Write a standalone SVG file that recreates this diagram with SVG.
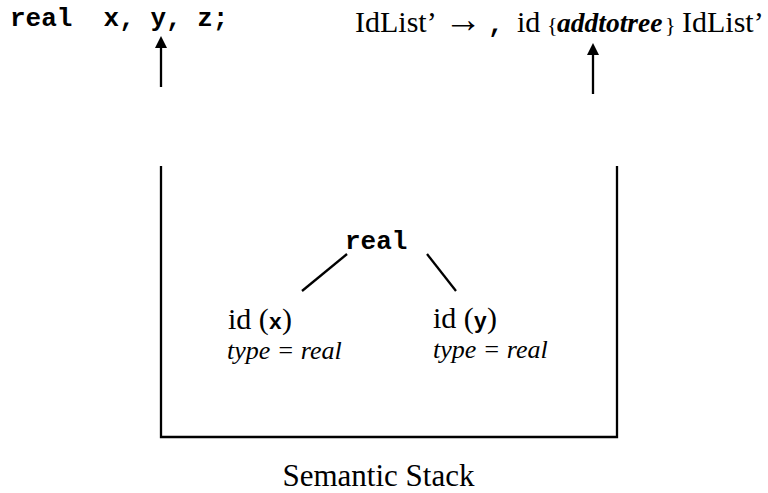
<svg xmlns="http://www.w3.org/2000/svg" width="768" height="493" viewBox="0 0 768 493">
<style>
.serif{font-family:"Liberation Serif","Times New Roman",serif;fill:#000}
.mono{font-family:"Liberation Mono","Courier New",monospace;font-weight:bold;fill:#000}
.ln{stroke:#000;stroke-width:2.3;fill:none}
</style>
<defs>
<marker id="ah" markerUnits="userSpaceOnUse" markerWidth="12" markerHeight="12" viewBox="0 0 12 12" refX="1" refY="6" orient="auto">
<path d="M0,0 L12,6 L0,12 Z" fill="#000"/>
</marker>
</defs>
<rect width="768" height="493" fill="#fff"/>
<g id="decl">
<text class="mono" x="10" y="26" font-size="26" xml:space="preserve">real  x, y, z;</text>
</g>
<g id="production">
<text class="serif" y="32" font-size="30"><tspan x="355">IdList’</tspan></text>
<text class="serif" x="444" y="32" font-size="38">→</text>
<text class="serif" y="32" font-size="30"><tspan x="488" class="mono" font-size="26">,</tspan><tspan x="517">id</tspan><tspan x="547" font-size="22">{</tspan><tspan x="557" font-size="27.5" font-weight="bold" font-style="italic">addtotree</tspan><tspan x="665" font-size="22">}</tspan><tspan x="682">IdList’</tspan></text>
</g>
<g id="stack">
<path class="ln" stroke-width="2.5" d="M161,166 L161,437 L617,437 L617,166"/>
</g>
<g id="root">
<text class="mono" x="345" y="249" font-size="26">real</text>
</g>
<g id="idx">
<text class="serif" x="228" y="329" font-size="30">id (<tspan class="mono" font-size="22">x</tspan>)</text>
<text class="serif" x="227" y="359" font-size="26" font-style="italic">type = real</text>
</g>
<g id="idy">
<text class="serif" x="433" y="328" font-size="30">id (<tspan class="mono" font-size="22">y</tspan>)</text>
<text class="serif" x="433" y="358" font-size="26" font-style="italic">type = real</text>
</g>
<g id="label">
<text class="serif" x="378.5" y="486" font-size="31" text-anchor="middle">Semantic Stack</text>
</g>
<g id="connectors">
<line class="ln" x1="161" y1="87" x2="161" y2="47" marker-end="url(#ah)"/>
<line class="ln" x1="593" y1="94" x2="593" y2="54" marker-end="url(#ah)"/>
<line class="ln" stroke-width="2" x1="347" y1="254" x2="302" y2="291"/>
<line class="ln" stroke-width="2" x1="427" y1="254" x2="456" y2="291"/>
</g>
</svg>
